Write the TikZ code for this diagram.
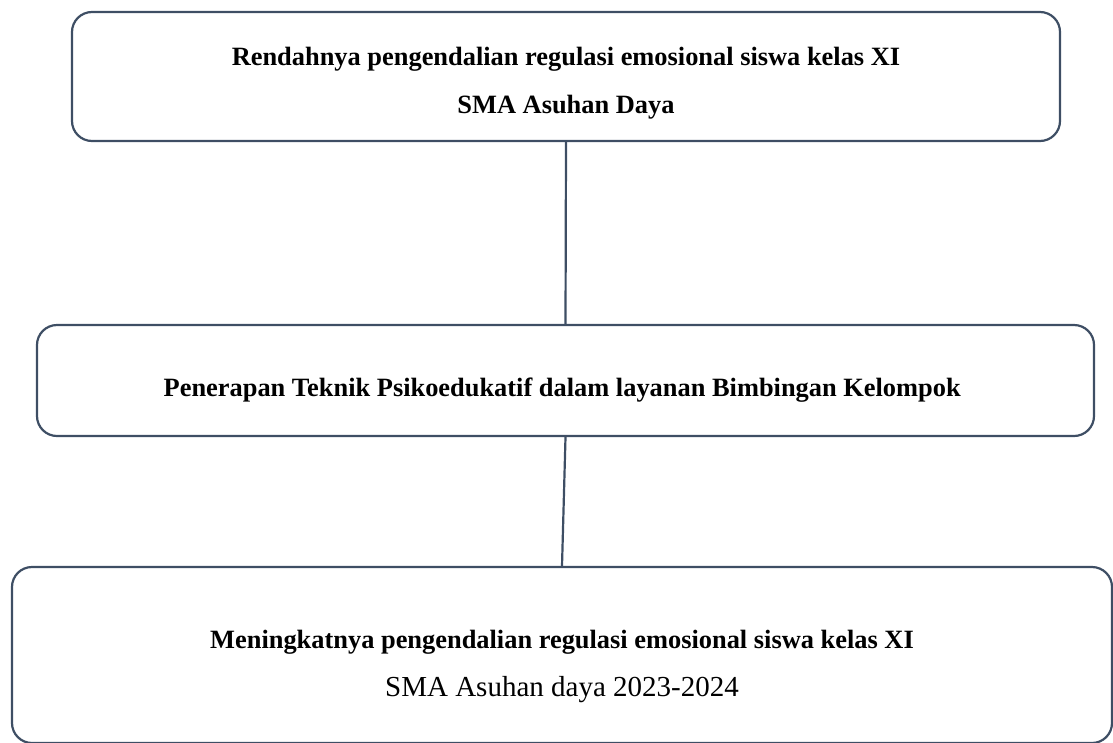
\documentclass[tikz,border=0pt]{standalone}
\usepackage{fontspec}
\setmainfont{Liberation Serif}
\definecolor{boxline}{RGB}{62,78,100}
\usetikzlibrary{positioning}

\begin{document}
\begin{tikzpicture}[x=1pt, y=-1pt,
    flowbox/.style={draw=boxline, line width=2.2pt, rounded corners=20pt,
                    inner sep=0pt, align=center,
                    font=\fontsize{26.4}{48}\selectfont},
    link/.style={draw=boxline, line width=2.2pt}
  ]
    \useasboundingbox (0,0) rectangle (1113,742);

    % Box 1: kondisi awal
    \node[flowbox, minimum width=988pt, minimum height=129pt] (awal) at (566, 76.5) {%
      \rule{0pt}{32pt}\textbf{Rendahnya pengendalian regulasi emosional siswa kelas XI}\\
      \textbf{SMA Asuhan Daya}
    };

    % Box 2: tindakan
    \node[flowbox, minimum width=1057pt, minimum height=111pt] (tindakan) at (565.5, 380.5) {%
      \rule{0pt}{38pt}\textbf{Penerapan Teknik Psikoedukatif dalam layanan Bimbingan Kelompok}
    };

    % Box 3: hasil
    \node[flowbox, minimum width=1100pt, minimum height=176pt] (hasil) at (562, 655) {%
      \rule{0pt}{42pt}\textbf{Meningkatnya pengendalian regulasi emosional siswa kelas XI}\\
      {\fontsize{29}{48}\selectfont SMA Asuhan daya 2023-2024}
    };

    % connectors
    \draw[link] (awal.south) -- (tindakan.north);
    \draw[link] (tindakan.south) -- (hasil.north);
  \end{tikzpicture}
\end{document}
